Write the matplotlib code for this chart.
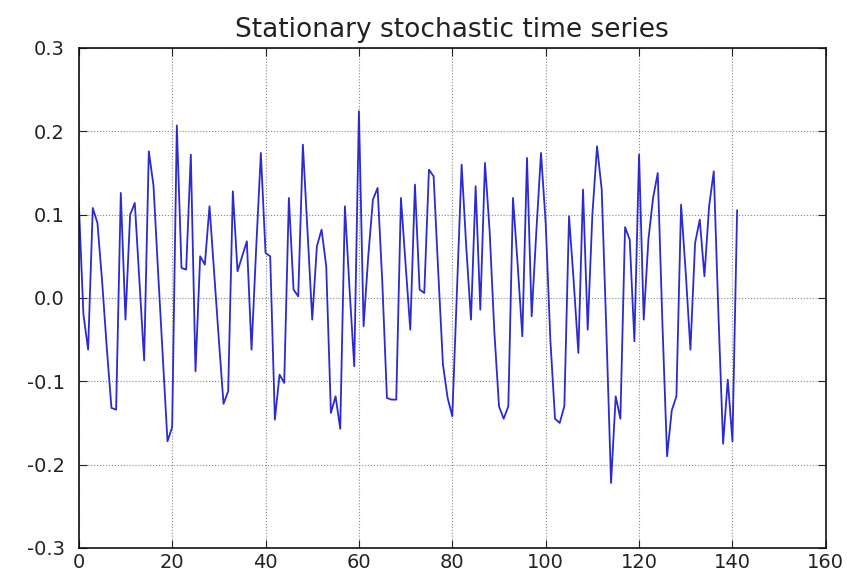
import matplotlib.pyplot as plt
import numpy as np

# values, one per time step
series = [
    0.115, -0.02, -0.062, 0.108, 0.09, 0.02, -0.06, -0.132, -0.134, 0.126,
    -0.026, 0.1, 0.114, 0.02, -0.075, 0.176, 0.135, 0.03, -0.07, -0.172,
    -0.155, 0.207, 0.036, 0.034, 0.172, -0.088, 0.05, 0.04, 0.11, 0.03,
    -0.05, -0.127, -0.112, 0.128, 0.032, 0.05, 0.068, -0.062, 0.06, 0.174,
    0.054, 0.05, -0.146, -0.092, -0.102, 0.12, 0.01, 0.002, 0.184, 0.08,
    -0.026, 0.062, 0.082, 0.038, -0.138, -0.118, -0.157, 0.11, 0.01, -0.082,
    0.224, -0.034, 0.05, 0.118, 0.132, 0.02, -0.12, -0.122, -0.122, 0.12,
    0.04, -0.038, 0.136, 0.01, 0.006, 0.154, 0.146, 0.03, -0.08, -0.12,
    -0.142, 0.01, 0.16, 0.06, -0.026, 0.134, -0.014, 0.162, 0.08, -0.04,
    -0.13, -0.145, -0.13, 0.12, 0.04, -0.046, 0.168, -0.022, 0.08, 0.174,
    0.09, -0.05, -0.145, -0.15, -0.13, 0.098, 0.02, -0.066, 0.13, -0.038,
    0.1, 0.182, 0.13, -0.04, -0.222, -0.118, -0.145, 0.085, 0.07, -0.052,
    0.172, -0.026, 0.07, 0.12, 0.15, -0.03, -0.19, -0.135, -0.118, 0.112,
    0.03, -0.062, 0.066, 0.094, 0.026, 0.11, 0.152, -0.02, -0.175, -0.098,
    -0.172, 0.105,
]
steps = np.arange(len(series))

xticks = [0, 20, 40, 60, 80, 100, 120, 140, 160]
yticks = [-0.3, -0.2, -0.1, 0.0, 0.1, 0.2, 0.3]

fig = plt.figure(figsize=(8.47, 5.78), dpi=100)
ax = fig.add_axes([0.093, 0.052, 0.882, 0.865])

ax.plot(steps, series, color='#2b2bd0', linewidth=1.3)

ax.set_xlim(0, 160)
ax.set_ylim(-0.3, 0.3)
ax.set_xticks(xticks)
ax.set_yticks(yticks)
ax.set_yticklabels(['%.1f' % v if v != 0 else '0.0' for v in yticks])
ax.tick_params(direction='in', top=True, right=True, length=6,
               labelsize=14, colors='#222222')
ax.tick_params(axis='x', pad=4)
ax.tick_params(axis='y', pad=10)
ax.grid(True, linestyle=':', color='#888888', linewidth=0.8)
for s in ax.spines.values():
    s.set_color('#111111')
    s.set_linewidth(1.2)

ax.set_title("Stationary stochastic time series", fontsize=19, pad=8,
             color='#222222')

fig.savefig('out.png', dpi=100)
